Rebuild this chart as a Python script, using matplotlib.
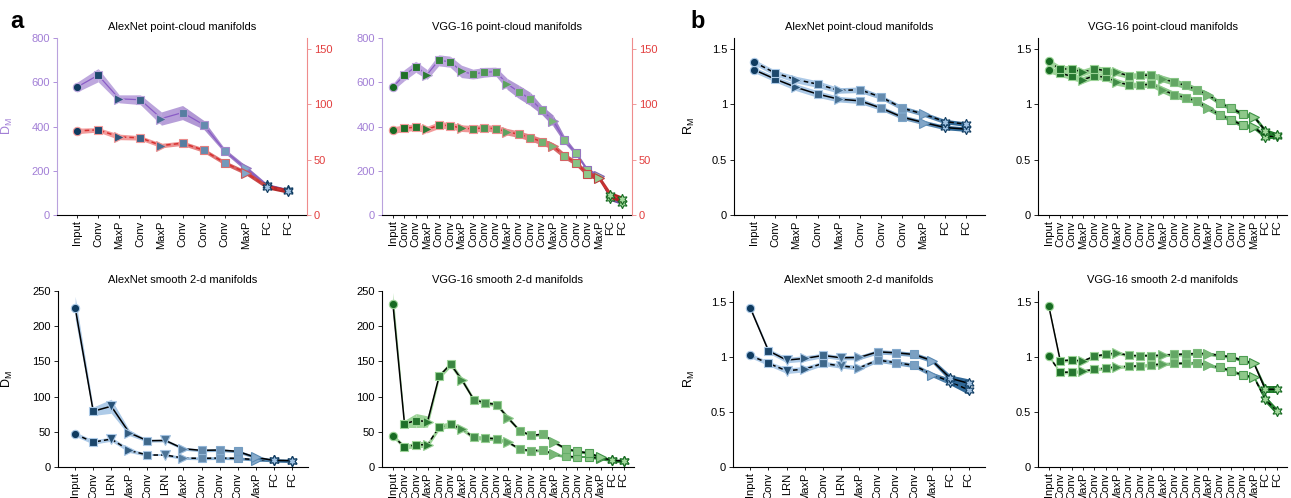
# layer-wise manifold dimension / radius, AlexNet vs VGG-16

import numpy as np
import matplotlib.pyplot as plt
from matplotlib.colors import to_rgb

plt.rcParams['font.family'] = ['Liberation Sans', 'DejaVu Sans']
plt.rcParams['mathtext.default'] = 'regular'

# layer names
alex_pc_layers = ['Input', 'Conv', 'MaxP', 'Conv', 'MaxP', 'Conv', 'Conv', 'Conv', 'MaxP', 'FC', 'FC']
alex_sm_layers = ['Input', 'Conv', 'LRN', 'MaxP', 'Conv', 'LRN', 'MaxP', 'Conv', 'Conv', 'Conv', 'MaxP', 'FC', 'FC']
vgg_layers = ['Input', 'Conv', 'Conv', 'MaxP', 'Conv', 'Conv', 'MaxP', 'Conv', 'Conv', 'Conv', 'MaxP',
              'Conv', 'Conv', 'Conv', 'MaxP', 'Conv', 'Conv', 'Conv', 'MaxP', 'FC', 'FC']

# panel a, point-cloud: D_M (left axis) and second measure (right axis)
alex_pc_dm = [578, 632, 525, 521, 436, 463, 408, 290, 211, 134, 113]
alex_pc_dm_err = [22, 30, 18, 22, 30, 32, 20, 10, 12, 8, 6]
alex_pc_right = [76, 77, 70.6, 69.7, 62.8, 64.9, 58.6, 47.1, 38.3, 25.7, 21.7]
alex_pc_right_err = [2.5, 2, 2.5, 2, 2, 2, 2, 2, 2, 2, 2]

vgg_pc_dm = [578, 632, 670, 635, 699, 693, 649, 637, 645, 648, 592,
             557, 525, 475, 427, 340, 279, 204, 178, 75, 56]
vgg_pc_dm_err = [15, 25, 25, 22, 25, 25, 28, 22, 22, 20, 25, 30, 30, 20, 25, 15, 10, 8, 8, 10, 8]
vgg_pc_right = [76.7, 78.5, 79.4, 77.3, 81.2, 80.9, 78.5, 77.9, 78.8, 77.9, 75.2,
                73.0, 70.0, 66.4, 62.2, 53.4, 47.1, 37.1, 33.8, 18.1, 14.2]
vgg_pc_right_err = [3, 3, 3, 3, 3, 3, 3, 3, 3, 3, 3, 3, 3, 3, 3, 2.5, 2.5, 2.5, 2.5, 3, 3]

# panel a, smooth 2-d manifolds: D_M
alex_sm_dm1 = [226.4, 79.2, 86.3, 48.6, 37.3, 37.7, 25.9, 23.6, 24.1, 22.2, 13.7, 9.4, 9.0]
alex_sm_dm1_err = [16, 6, 10, 4, 2, 2, 2, 2, 2, 2, 2, 2, 2]
alex_sm_dm2 = [46.7, 35.4, 39.6, 23.6, 17.0, 17.0, 12.7, 12.3, 12.7, 12.3, 10.4, 9.4, 8.5]
alex_sm_dm2_err = [3, 3, 3, 3, 2, 2, 2, 2, 2, 2, 2, 2, 2]

vgg_sm_dm1 = [231, 61.3, 66.0, 64.6, 128.8, 146.2, 123.1, 95.8, 91.0, 88.7, 69.3,
              51.4, 44.8, 46.7, 34.9, 25.9, 22.2, 19.8, 13.7, 9.4, 8.5]
vgg_sm_dm1_err = [17, 5, 10, 8, 4, 4, 4, 3, 3, 3, 3, 2, 2, 2, 2, 2, 2, 2, 2, 2, 2]
vgg_sm_dm2 = [44.3, 28.3, 31.6, 31.6, 56.6, 60.4, 53.8, 42.0, 41.0, 40.1, 34.9,
              25.5, 23.1, 24.1, 17.9, 15.1, 14.2, 14.2, 12.3, 9.4, 8.5]
vgg_sm_dm2_err = [3, 3, 4, 4, 4, 4, 3, 3, 3, 3, 2, 2, 2, 2, 2, 2, 2, 2, 2, 2, 2]

# panel b: R_M
alex_pc_rm1 = [1.382, 1.283, 1.223, 1.183, 1.126, 1.132, 1.065, 0.966, 0.912, 0.845, 0.821]
alex_pc_rm2 = [1.313, 1.228, 1.153, 1.093, 1.047, 1.032, 0.966, 0.884, 0.836, 0.791, 0.776]
alex_pc_rm_err = [0.025, 0.025, 0.03, 0.03, 0.025, 0.025, 0.02, 0.02, 0.02, 0.02, 0.02]

vgg_pc_rm1 = [1.388, 1.319, 1.322, 1.289, 1.322, 1.304, 1.289, 1.259, 1.262, 1.265, 1.232,
              1.201, 1.171, 1.132, 1.087, 1.011, 0.966, 0.912, 0.890, 0.761, 0.724]
vgg_pc_rm2 = [1.310, 1.283, 1.253, 1.223, 1.259, 1.244, 1.201, 1.177, 1.174, 1.183, 1.132,
              1.087, 1.062, 1.026, 0.966, 0.906, 0.860, 0.812, 0.794, 0.709, 0.715]
vgg_pc_rm_err = [0.025, 0.03, 0.03, 0.03, 0.03, 0.03, 0.03, 0.025, 0.025, 0.025, 0.03,
                 0.03, 0.03, 0.025, 0.025, 0.02, 0.02, 0.02, 0.02, 0.02, 0.02]

alex_sm_rm1 = [1.446, 1.056, 0.972, 0.987, 1.014, 0.993, 0.996, 1.047, 1.038, 1.023, 0.966, 0.806, 0.761]
alex_sm_rm2 = [1.014, 0.942, 0.875, 0.890, 0.942, 0.918, 0.902, 0.972, 0.948, 0.924, 0.839, 0.776, 0.700]
alex_sm_rm_err = [0.02, 0.02, 0.025, 0.025, 0.02, 0.02, 0.02, 0.02, 0.02, 0.02, 0.02, 0.03, 0.04]

vgg_sm_rm1 = [1.461, 0.966, 0.972, 0.963, 1.008, 1.023, 1.038, 1.014, 1.011, 1.011, 1.017,
              1.023, 1.026, 1.032, 1.029, 1.014, 1.002, 0.969, 0.942, 0.706, 0.706]
vgg_sm_rm2 = [1.008, 0.860, 0.863, 0.872, 0.887, 0.899, 0.911, 0.914, 0.920, 0.929, 0.935,
              0.942, 0.942, 0.948, 0.926, 0.905, 0.875, 0.836, 0.815, 0.616, 0.507]
vgg_sm_rm_err = [0.015, 0.015, 0.015, 0.015, 0.015, 0.015, 0.015, 0.015, 0.015, 0.015, 0.015,
                 0.015, 0.015, 0.015, 0.015, 0.015, 0.015, 0.015, 0.015, 0.03, 0.03]

# styling
shapes = {'Input': 'o', 'Conv': 's', 'MaxP': '>', 'LRN': 'v', 'FC': (6, 1, 0)}
sizes = {'Input': 6, 'Conv': 5.5, 'MaxP': 7, 'LRN': 7, 'FC': 7.5}
blue_mk = ('#0f3b60', '#9fc1e2')
green_mk = ('#176b22', '#a3d89c')
purple_band = ('#bea8de', '#6e46a3')
red_band = ('#f39c9c', '#a81818')
blue_band = ('#aecbe8', '#1f5b8c')
green_band = ('#9dd498', '#1b7a28')
PURPLE = '#a27fd6'
RED = '#e23d3d'

W, H = 1291, 498


def mix(c1, c2, t):
    a, b = np.array(to_rgb(c1)), np.array(to_rgb(c2))
    return tuple(a + (b - a) * t)


def draw(ax, y, err, layers, mk, band, line_color='k', ls='-', lw=1.1, z=2):
    y = np.asarray(y, float)
    err = np.asarray(err, float)
    x = np.arange(len(y))
    n = len(y) - 1
    for i in range(n):
        t = ((i + 0.5) / n) ** 3
        ax.fill_between(x[i:i + 2], y[i:i + 2] - err[i:i + 2], y[i:i + 2] + err[i:i + 2],
                        color=mix(band[0], band[1], t), lw=0, zorder=z)
    ax.plot(x, y, color=line_color, ls=ls, lw=lw, zorder=z + 1)
    for i, name in enumerate(layers):
        t = i / n
        edge = mix(band[0], band[1], t ** 3)
        face = mix(mk[0], mk[1], t)
        if name == 'FC':
            face, edge = mk[1], mk[0]
        ax.plot(x[i], y[i], marker=shapes[name], ms=sizes[name], mfc=face, mec=edge,
                mew=0.8, ls='none', zorder=z + 2)


def make_ax(px_left, px_right, px_top, px_bottom, layers, ylim, yticks, yticklabels, title):
    ax = fig.add_axes([px_left / W, 1 - px_bottom / H, (px_right - px_left) / W, (px_bottom - px_top) / H])
    n = len(layers)
    ax.set_xlim(-0.95, n - 1 + 0.9)
    ax.set_ylim(*ylim)
    ax.set_xticks(np.arange(n))
    ax.set_xticklabels(layers, rotation=90, fontsize=8)
    ax.set_yticks(yticks)
    ax.set_yticklabels(yticklabels, fontsize=8)
    ax.tick_params(direction='out', length=3, width=0.6, pad=2)
    ax.tick_params(axis='x', length=2)
    for s in ['top', 'right']:
        ax.spines[s].set_visible(False)
    for s in ['left', 'bottom']:
        ax.spines[s].set_linewidth(0.8)
    ax.set_title(title, fontsize=8, pad=6)
    return ax


fig = plt.figure(figsize=(W / 100, H / 100), dpi=100)

# ---- a, top: point-cloud D_M with twin axis
for (l, r, layers, dm, dme, rr, rre, mk, title) in [
        (57, 307, alex_pc_layers, alex_pc_dm, alex_pc_dm_err, alex_pc_right, alex_pc_right_err,
         blue_mk, 'AlexNet point-cloud manifolds'),
        (382, 632, vgg_layers, vgg_pc_dm, vgg_pc_dm_err, vgg_pc_right, vgg_pc_right_err,
         green_mk, 'VGG-16 point-cloud manifolds')]:
    ax = make_ax(l, r, 38, 215, layers, (0, 800), [0, 200, 400, 600, 800],
                 ['0', '200', '400', '600', '800'], title)
    ax.spines['left'].set_color('#b9a2dd')
    ax.tick_params(axis='y', colors=PURPLE)
    for t in ax.get_yticklabels():
        t.set_color(PURPLE)
    draw(ax, dm, dme, layers, mk, purple_band, line_color='#8a5cc6', lw=0.9)
    ax2 = ax.twinx()
    ax2.set_ylim(0, 160)
    ax2.set_yticks([0, 50, 100, 150])
    ax2.set_yticklabels(['0', '50', '100', '150'], fontsize=8, color=RED)
    ax2.tick_params(axis='y', colors='#ee8a8a', direction='out', length=3, width=0.6, pad=2)
    for t in ax2.get_yticklabels():
        t.set_color(RED)
    for s in ['top', 'left', 'bottom']:
        ax2.spines[s].set_visible(False)
    ax2.spines['right'].set_color('#ef8c8c')
    ax2.spines['right'].set_linewidth(0.8)
    draw(ax2, rr, rre, layers, mk, red_band, line_color='#d83030', ls=(0, (3, 2)), lw=1.1)
    if l < 100:
        ax.set_ylabel('$D_M$', fontsize=9, color=PURPLE)
        ax.yaxis.set_label_coords((15 - l) / (r - l), 0.5)

# ---- a, bottom: smooth manifolds D_M
for (l, r, layers, s1, e1, s2, e2, mk, band, title) in [
        (58, 308, alex_sm_layers, alex_sm_dm1, alex_sm_dm1_err, alex_sm_dm2, alex_sm_dm2_err,
         blue_mk, blue_band, 'AlexNet smooth 2-d manifolds'),
        (382, 634, vgg_layers, vgg_sm_dm1, vgg_sm_dm1_err, vgg_sm_dm2, vgg_sm_dm2_err,
         green_mk, green_band, 'VGG-16 smooth 2-d manifolds')]:
    ax = make_ax(l, r, 291, 467, layers, (0, 250), [0, 50, 100, 150, 200, 250],
                 ['0', '50', '100', '150', '200', '250'], title)
    draw(ax, s2, e2, layers, mk, band, ls=(0, (3, 2)))
    draw(ax, s1, e1, layers, mk, band, ls='-', z=5)
    if l < 100:
        ax.set_ylabel('$D_M$', fontsize=9)
        ax.yaxis.set_label_coords((15 - l) / (r - l), 0.5)

# ---- b: R_M
rm_ticks = [0, 0.5, 1, 1.5]
rm_labels = ['0', '0.5', '1', '1.5']
for (l, r, top, bot, layers, s1, s2, err, mk, band, title, upper_ls, lower_ls) in [
        (734, 985, 38, 215, alex_pc_layers, alex_pc_rm1, alex_pc_rm2, alex_pc_rm_err,
         blue_mk, blue_band, 'AlexNet point-cloud manifolds', (0, (3, 2)), '-'),
        (1038, 1287, 38, 215, vgg_layers, vgg_pc_rm1, vgg_pc_rm2, vgg_pc_rm_err,
         green_mk, green_band, 'VGG-16 point-cloud manifolds', (0, (3, 2)), (0, (3, 2))),
        (733, 985, 291, 467, alex_sm_layers, alex_sm_rm1, alex_sm_rm2, alex_sm_rm_err,
         blue_mk, blue_band, 'AlexNet smooth 2-d manifolds', '-', (0, (3, 2))),
        (1038, 1287, 291, 467, vgg_layers, vgg_sm_rm1, vgg_sm_rm2, vgg_sm_rm_err,
         green_mk, green_band, 'VGG-16 smooth 2-d manifolds', '-', (0, (3, 2)))]:
    ax = make_ax(l, r, top, bot, layers, (0, 1.6), rm_ticks, rm_labels, title)
    draw(ax, s2, err, layers, mk, band, ls=lower_ls)
    draw(ax, s1, err, layers, mk, band, ls=upper_ls, z=5)
    if l < 1000:
        ax.set_ylabel('$R_M$', fontsize=9)
        ax.yaxis.set_label_coords((697 - l) / (r - l), 0.5)

fig.text(10 / W, 1 - 28 / H, 'a', fontsize=17, fontweight='bold')
fig.text(690 / W, 1 - 28 / H, 'b', fontsize=17, fontweight='bold')

fig.savefig('out.png', dpi=100)
